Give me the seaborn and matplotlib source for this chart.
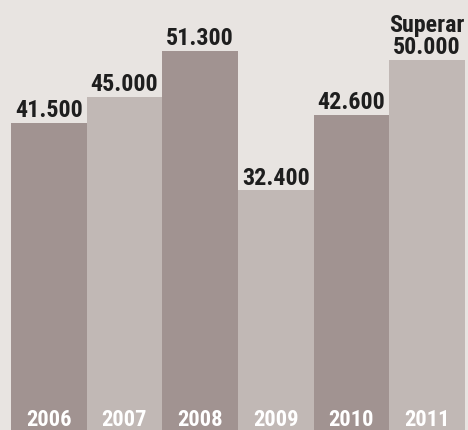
import matplotlib
matplotlib.use("Agg")
import matplotlib.pyplot as plt
import seaborn as sns
import pandas as pd

# dados
anos = ["2006", "2007", "2008", "2009", "2010", "2011"]
valores = [41.5, 45.0, 51.3, 32.4, 42.6, 50.0]
rotulos = ["41.500", "45.000", "51.300", "32.400", "42.600", "Superar\n50.000"]

cor_escura = "#a19391"
cor_clara = "#c1b8b5"
fundo = "#e8e4e1"

sns.set_theme(style="white")
plt.rcParams["font.family"] = ["Roboto Condensed", "DejaVu Sans"]

df = pd.DataFrame({"ano": anos, "valor": valores})

fig = plt.figure(figsize=(4.68, 4.31), dpi=100)
fig.patch.set_facecolor(fundo)
ax = fig.add_axes([11 / 468, 0, 454 / 468, 1])
ax.set_facecolor(fundo)

cores = [cor_escura if i % 2 == 0 else cor_clara for i in range(len(anos))]
sns.barplot(data=df, x="ano", y="valor", hue="ano", palette=cores,
            width=1.0, legend=False, ax=ax, saturation=1, linewidth=0)

ax.set_xlim(-0.5, len(anos) - 0.5)
ax.set_ylim(0, 58.3)

# rótulos dos valores (uma linha por texto, de baixo para cima)
for i, (v, r) in enumerate(zip(valores, rotulos)):
    linhas = r.split("\n")[::-1]
    for k, linha in enumerate(linhas):
        ax.annotate(linha, (i, v), xytext=(0, 5 + k * 16), textcoords="offset points",
                    ha="center", va="baseline", fontsize=17.3, fontweight="bold",
                    color="#1e1e1e")

# anos dentro das barras
for i, a in enumerate(anos):
    ax.annotate(a, (i, 0), xytext=(0, 3.5), textcoords="offset points",
                ha="center", va="baseline", fontsize=16.2, fontweight="bold",
                color="white")

ax.set_xlabel("")
ax.set_ylabel("")
ax.set_xticks([])
ax.set_yticks([])
for s in ax.spines.values():
    s.set_visible(False)

fig.savefig("out.png", dpi=100, facecolor=fundo)
